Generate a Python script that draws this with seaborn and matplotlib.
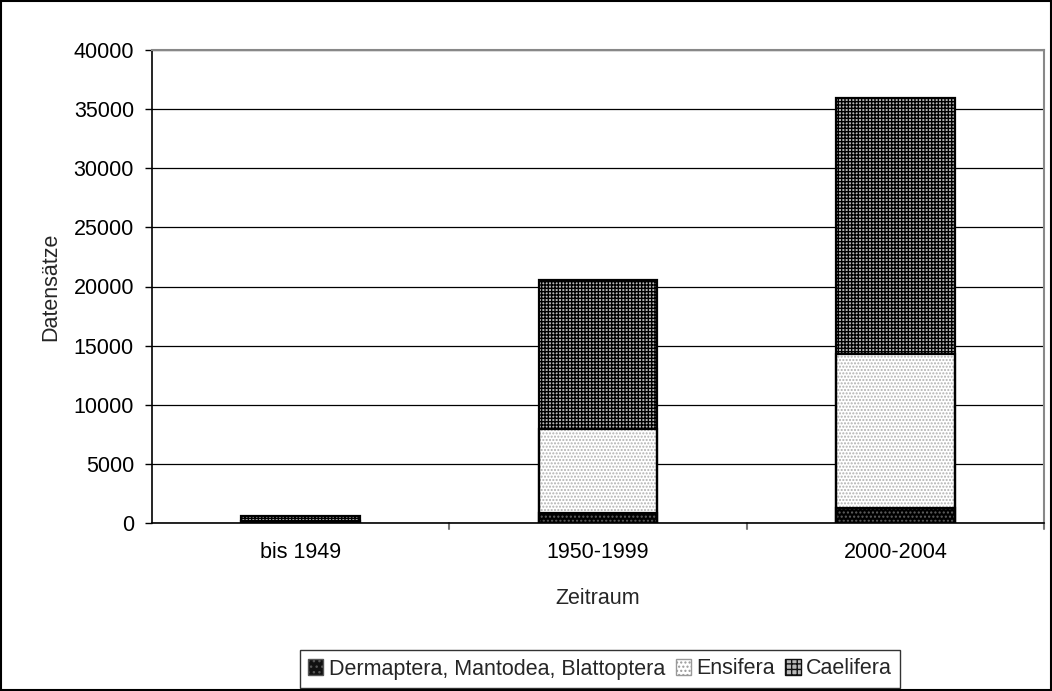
import matplotlib
matplotlib.use("Agg")
import matplotlib.pyplot as plt
import seaborn as sns
import pandas as pd
from matplotlib.patches import Patch, Rectangle

categories = ["bis 1949", "1950-1999", "2000-2004"]
dermaptera = [20, 850, 1270]
ensifera = [120, 7100, 13000]
caelifera = [460, 12600, 21650]
series_names = ["Dermaptera, Mantodea, Blattoptera", "Ensifera", "Caelifera"]

sns.set_style("white")
plt.rcParams["font.family"] = ["Liberation Sans", "DejaVu Sans"]
plt.rcParams["hatch.linewidth"] = 1.0

FS = 15.5

fig = plt.figure(figsize=(10.52, 6.91), dpi=100)
ax = fig.add_axes([152/1052, 1 - 523/691, (1044-152)/1052, (523-50)/691])

tot1 = dermaptera
tot2 = [a + b for a, b in zip(dermaptera, ensifera)]
tot3 = [a + b + c for a, b, c in zip(dermaptera, ensifera, caelifera)]

styles = [
    (tot3, "#b8b8b8", "#000000", "+" * 5),
    (tot2, "white", "#b0b0b0", "." * 5),
    (tot1, "#000000", "#606060", "." * 4),
]
for tot, fc, hc, hatch in styles:
    df = pd.DataFrame({"cat": categories, "val": tot})
    n0 = len(ax.patches)
    sns.barplot(data=df, x="cat", y="val", color=fc, width=0.40, ax=ax,
                saturation=1, errorbar=None, linewidth=0, zorder=3)
    for p in ax.patches[n0:]:
        p.set_facecolor(fc)
        p.set_hatch(hatch)
        p.set_edgecolor(hc)
        p.set_linewidth(0)
    n1 = len(ax.patches)
    sns.barplot(data=df, x="cat", y="val", width=0.40, ax=ax, fill=False,
                errorbar=None, zorder=4)
    for p in ax.patches[n1:]:
        p.set_facecolor("none")
        p.set_edgecolor("black")
        p.set_linewidth(1.6)
        p.set_hatch(None)

ax.set_ylim(0, 40000)
ax.set_xlim(-0.5, 2.5)
ax.set_yticks(range(0, 40001, 5000))
ax.yaxis.grid(True, color="black", linewidth=0.9)
ax.set_axisbelow(True)
ax.tick_params(axis="y", labelsize=FS, colors="black", length=5, width=1,
               direction="out", left=True, pad=8)
ax.tick_params(axis="x", labelsize=FS, colors="black", bottom=False, pad=10)
ax.set_ylabel("Datensätze", fontsize=FS, labelpad=9)
ax.set_xlabel("Zeitraum", fontsize=FS, labelpad=18)
for s in ["left", "bottom"]:
    ax.spines[s].set_color("black")
    ax.spines[s].set_linewidth(1.2)
for s in ["top", "right"]:
    ax.spines[s].set_color("#888888")
    ax.spines[s].set_linewidth(1.5)
    ax.spines[s].set_visible(True)
for xv in [0.5, 1.5, 2.5]:
    ax.plot([xv, xv], [0, -0.012], transform=ax.get_xaxis_transform(),
            color="#777777", linewidth=1.5, clip_on=False)

handles = [
    Patch(facecolor="#111111", edgecolor="#555555", hatch="." * 3, label=series_names[0]),
    Patch(facecolor="white", edgecolor="#999999", hatch="." * 4, label=series_names[1]),
    Patch(facecolor="#b8b8b8", edgecolor="#111111", hatch="+" * 3, label=series_names[2]),
]
leg = fig.legend(handles=handles, loc="center", bbox_to_anchor=(600/1052, 1 - 669/691),
                 ncol=3, frameon=True, fancybox=False, fontsize=FS,
                 handlelength=0.7, handleheight=0.7, handletextpad=0.25,
                 columnspacing=0.5, borderpad=0.4, edgecolor="black")
leg.get_frame().set_linewidth(1.0)

fig.patches.append(Rectangle((0.001, 0.001), 0.998, 0.998, transform=fig.transFigure,
                             fill=False, edgecolor="black", linewidth=1.5))
fig.savefig("out.png", dpi=100)
